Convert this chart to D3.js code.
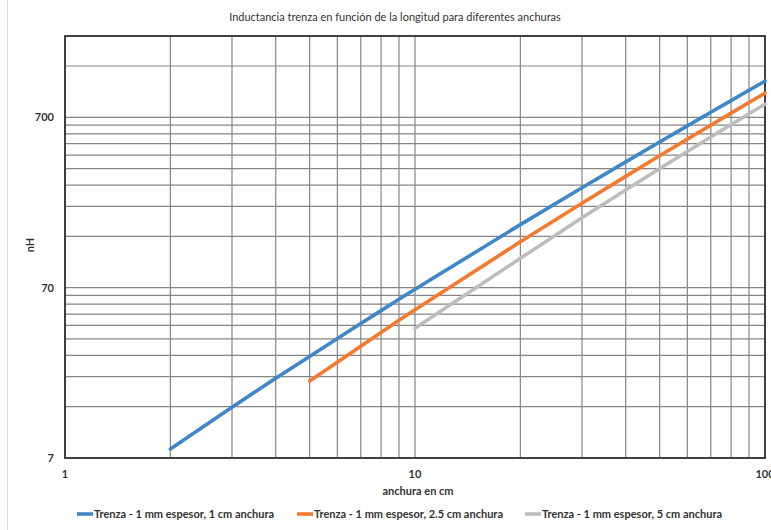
<!DOCTYPE html>
<html>
<head>
<meta charset="utf-8">
<script src="https://cdn.jsdelivr.net/npm/d3@7"></script>
<style>
  body { margin: 0; background: #fff; }
  svg { display: block; font-family: Lato, "Open Sans", sans-serif; }
  .grid line { stroke: #858585; stroke-width: 1.2; }
  .tick-label { font-size: 11px; font-weight: bold; fill: #333; }
</style>
</head>
<body>
<svg id="chart" width="771" height="530"></svg>
<script>
// Inductancia de trenza plana frente a la longitud, ejes log-log.

const title = 'Inductancia trenza en función de la longitud para diferentes anchuras';
const xTitle = 'anchura en cm';
const yTitle = 'nH';

const xTickLabels = [1, 10, 100];
const yTickLabels = [7, 70, 700];

const seriesNames = [
  'Trenza - 1 mm espesor, 1 cm anchura',
  'Trenza - 1 mm espesor, 2.5 cm anchura',
  'Trenza - 1 mm espesor, 5 cm anchura',
];

// valores (nH)
const xBlue = [2, 3, 4, 5, 6, 7, 8, 9, 10, 20, 30, 40, 50, 60, 70, 80, 90, 100];
const yBlue = [7.9, 13.9, 20.6, 27.6, 35.2, 43.1, 51.3, 59.8, 68.5, 164, 270, 383, 501, 623, 749, 877, 1008, 1141];

const xOrange = [5, 6, 7, 8, 9, 10, 20, 30, 40, 50, 60, 70, 80, 90, 100];
const yOrange = [19.8, 25.5, 31.7, 38.2, 45.0, 52.0, 130, 219, 315, 416, 521, 629, 740, 854, 970];

const xGray = [10, 20, 30, 40, 50, 60, 70, 80, 90, 100];
const yGray = [40.5, 104, 180, 262, 350, 441, 536, 634, 734, 836];

const colors = ['#3f87c7', '#f47a30', '#bdbdbd'];

const svg = d3.select('#chart');
const W = 771, H = 530;
const plot = { left: 65, right: 765, top: 36, bottom: 458 };

svg.append('rect').attr('width', W).attr('height', H).attr('fill', '#fff');
// borde exterior del gráfico
svg.append('rect')
  .attr('x', 7.5).attr('y', -2).attr('width', 800).attr('height', 540)
  .attr('fill', 'none').attr('stroke', '#dcdcdc');

const x = d3.scaleLog().domain([1, 100]).range([plot.left, plot.right]);
const y = d3.scaleLog().domain([7, 2100]).range([plot.bottom, plot.top]);

// rejilla: múltiplos de 1 por década en x, de 7 por década en y
const xGrid = [];
for (const dec of [1, 10]) for (let k = 1; k <= 9; k++) xGrid.push(k * dec);
xGrid.push(100);
const yGrid = [];
for (const dec of [7, 70, 700]) for (let k = 1; k <= 9; k++) if (k * dec <= 2100) yGrid.push(k * dec);

const grid = svg.append('g').attr('class', 'grid');
grid.selectAll('.gx')
  .data(xGrid)
  .join('line')
  .attr('class', 'gx')
  .attr('x1', (d) => x(d)).attr('x2', (d) => x(d))
  .attr('y1', plot.top).attr('y2', plot.bottom);
grid.selectAll('.gy')
  .data(yGrid)
  .join('line')
  .attr('class', 'gy')
  .attr('x1', plot.left).attr('x2', plot.right)
  .attr('y1', (d) => y(d)).attr('y2', (d) => y(d));

// marco del área de trazado
svg.append('rect')
  .attr('x', plot.left).attr('y', plot.top)
  .attr('width', plot.right - plot.left).attr('height', plot.bottom - plot.top)
  .attr('fill', 'none').attr('stroke', '#333').attr('stroke-width', 1.8);

// etiquetas de ejes (el "100" queda cortado por el borde, como en el original)
svg.selectAll('.xlab')
  .data(xTickLabels)
  .join('text')
  .attr('class', 'tick-label xlab')
  .attr('x', (d) => x(d)).attr('y', plot.bottom + 20)
  .attr('text-anchor', 'middle')
  .text((d) => d);

svg.selectAll('.ylab')
  .data(yTickLabels)
  .join('text')
  .attr('class', 'tick-label ylab')
  .attr('x', 54).attr('y', (d) => y(d) + 4)
  .attr('text-anchor', 'end')
  .text((d) => d);

svg.append('text')
  .attr('x', 395).attr('y', 21)
  .attr('text-anchor', 'middle')
  .attr('font-size', 11)
  .attr('fill', '#333')
  .text(title);

svg.append('text')
  .attr('x', 418).attr('y', 495)
  .attr('text-anchor', 'middle')
  .attr('font-size', 11).attr('font-weight', 'bold').attr('fill', '#333')
  .text(xTitle);

svg.append('text')
  .attr('transform', 'translate(34,245) rotate(-90)')
  .attr('text-anchor', 'middle')
  .attr('font-size', 11).attr('font-weight', 'bold').attr('fill', '#333')
  .text(yTitle);

// series
const series = [
  { xs: xBlue, ys: yBlue },
  { xs: xOrange, ys: yOrange },
  { xs: xGray, ys: yGray },
];

const line = d3.line().x((d) => x(d[0])).y((d) => y(d[1]));

svg.append('g')
  .selectAll('path')
  .data(series)
  .join('path')
  .attr('d', (s) => line(s.xs.map((v, i) => [v, s.ys[i]])))
  .attr('fill', 'none')
  .attr('stroke', (_, i) => colors[i])
  .attr('stroke-width', 3.6)
  .attr('stroke-linecap', 'round')
  .attr('stroke-linejoin', 'round');

// leyenda
const legendX = [77, 297, 525];
const legend = svg.append('g')
  .selectAll('g')
  .data(seriesNames)
  .join('g')
  .attr('transform', (_, i) => `translate(${legendX[i]}, 518)`);

legend.append('line')
  .attr('x1', 0).attr('x2', 16).attr('y1', -4).attr('y2', -4)
  .attr('stroke', (_, i) => colors[i]).attr('stroke-width', 3.6);

legend.append('text')
  .attr('x', 17).attr('y', 0)
  .attr('font-size', 11).attr('font-weight', 'bold').attr('fill', '#333')
  .text((d) => d);
</script>
</body>
</html>
